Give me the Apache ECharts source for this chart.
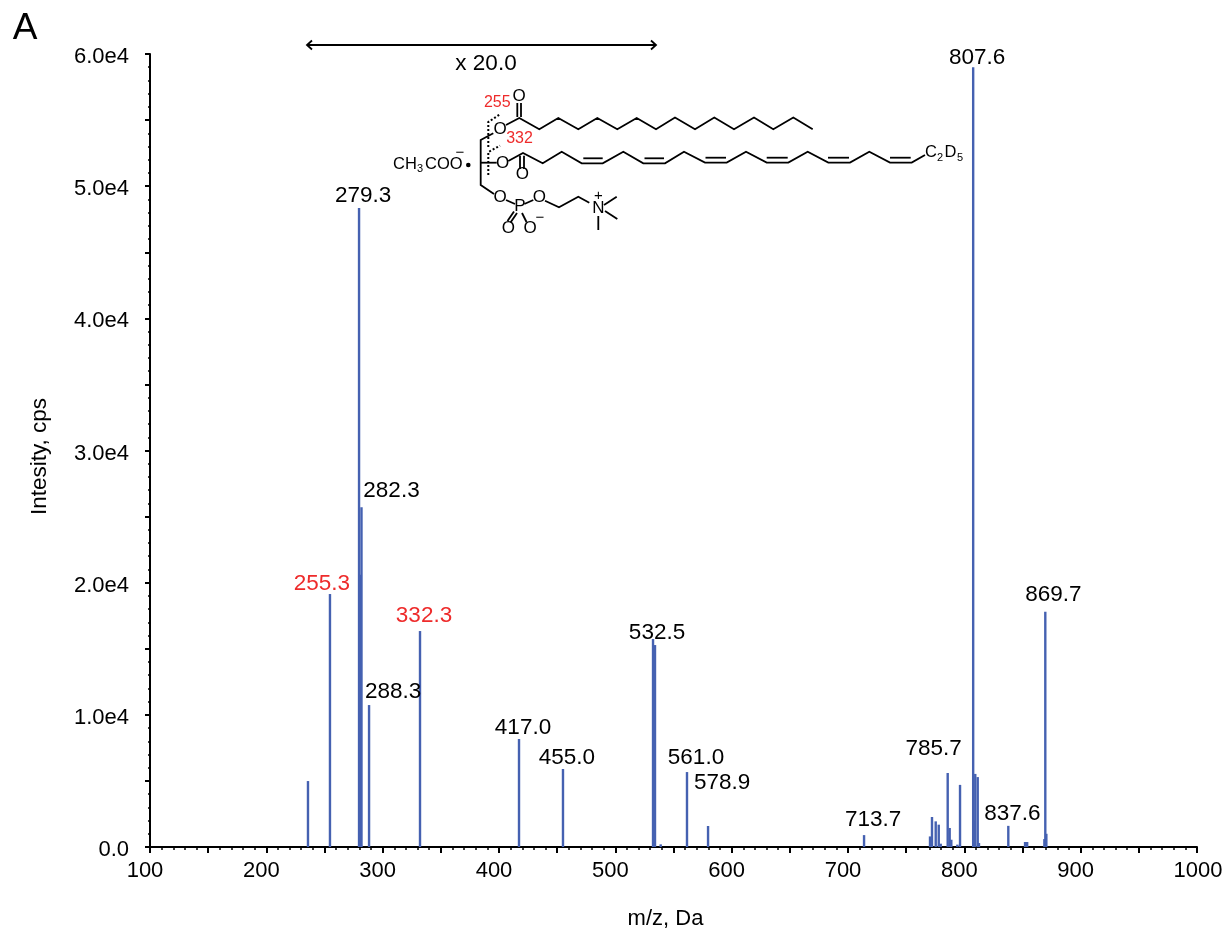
<!DOCTYPE html>
<html><head><meta charset="utf-8">
<style>html,body{margin:0;padding:0;background:#fff}#c{width:1223px;height:931px}</style>
<script src="https://cdn.jsdelivr.net/npm/echarts@6/dist/echarts.min.js"></script>
</head><body><div id="c"></div>
<script>
// ---- data ----
const peakMz = [235.8,254.7,279.7,280.5,281.8,288.3,332.1,417.2,455.0,532.4,534.1,539.0,561.6,579.7,713.8,
  770.5,772.2,775.4,778.0,779.7,785.7,787.4,788.8,794.0,796.3,807.6,808.3,809.4,811.5,812.6,837.8,852.2,854.0,868.8,869.6,870.5];
const peakInt = [4990,19140,48350,20600,25700,10740,16340,8170,5900,15740,15280,200,5670,1590,900,
  800,2270,1940,1690,250,5600,1440,550,180,4700,59000,2000,5530,5290,300,1600,380,380,600,17800,1000];
const labelTexts = ["807.6","279.3","282.3","255.3","332.3","288.3","532.5","417.0","455.0","561.0","578.9","713.7","785.7","837.6","869.7"];
const labelMz    = [807.6,279.7,281.8,254.7,332.1,288.3,532.4,417.2,455.0,561.6,579.7,713.8,785.7,837.8,869.6];
const labelInt   = [59000,48350,25700,19140,16340,10740,15740,8170,5900,5670,1590,900,5600,1600,17800];
const xTicks = [100,1000];
const yTicks = [0,60000];
// ---- style ----
const FONT = '"Liberation Sans", Arial, sans-serif';
const labelStyle = {
  "807.6":[4,7],"279.3":[4,4],"282.3":[30,0],"255.3":[-8,6],"332.3":[4,1],"288.3":[24,3],"532.5":[4,10],
  "417.0":[4,5],"455.0":[4,5],"561.0":[9,2],"578.9":[14,-27],"713.7":[9,1],"785.7":[-14,-8],"837.6":[4,4],"869.7":[8,0]
};
const RED = '#ee2b2b';
const red = new Set(["255.3","332.3"]);
const G = {l:150,r:1197,t:54,b:847};
const chart = echarts.init(document.getElementById('c'),null,{renderer:'canvas'});
const T = (x,y,t,o={}) => ({type:'text',x,y,silent:true,style:Object.assign({text:t,fontFamily:FONT,fontSize:17,fill:'#000',align:'center',verticalAlign:'middle'},o)});
const P = (pts,w=1.8,extra={}) => ({type:'polyline',silent:true,shape:{points:pts},style:Object.assign({stroke:'#000',lineWidth:w,fill:null,lineJoin:'miter'},extra)});
const g=[];
// range arrow
g.push(P([[307,45],[656,45]],1.8));
g.push(P([[312,40.5],[307,45],[312,49.5]],1.8));
g.push(P([[651,40.5],[656,45],[651,49.5]],1.8));
g.push(T(486,64,'x 20.0',{fontSize:22.5}));
g.push(T(25,29,'A',{fontSize:37}));
// sn-1 chain
g.push(P([[506,125],[519.3,118],[539.3,129.3],[558.3,118],[578.3,129.3],[597.3,118],[617.3,129.3],[636.7,118],[656,129.3],[675,117.5],[695,129.3],[714.3,117.5],[734,129.3],[754,117.5],[773.3,129.3],[793.3,117.5],[812.7,129.3]]));
g.push(P([[517.3,103],[517.3,117]]));g.push(P([[521,103],[521,117]]));
g.push(T(519,96,'O'));
g.push(T(500,129.5,'O'));
// backbone
g.push(P([[493.3,133.3],[480.7,140],[480.7,185],[494,194]]));
g.push(P([[480.7,162.7],[496.7,162.7]]));
// dotted fragments
const dot={lineDash:[2,2]};
g.push(P([[488.3,147],[488.3,122],[500,114.3]],2,dot));
g.push(P([[488.3,175],[488.3,152],[500,145.7]],2,dot));
g.push(T(497.3,103,'255',{fontSize:16,fill:RED}));
g.push(T(519.5,139,'332',{fontSize:16,fill:RED}));
// sn-2 chain
g.push(P([[508.3,161],[523,153],[542.7,163.3],[561.7,151.7],[581.7,163.3],[602.7,163.3],[623.3,151.7],[643.3,163.3],[665,163.3],[684,151.7],[705,162.6],[726.7,162.6],[746,151.7],[766.7,162.6],[788.3,162.6],[807.7,151.7],[828.3,162.6],[850,162.6],[869.3,151.7],[890,162.6],[911.7,162.6],[925,155]]));
[[583.3,602.7,158.3],[644.5,664,158.3],[705.5,726,157.7],[766.7,787.7,157.7],[828,849,157.7],[890,910.7,157.7]].forEach(s=>g.push(P([[s[0],s[2]],[s[1],s[2]]])));
g.push(P([[520,155.7],[520,169]]));g.push(P([[524,155.7],[524,169]]));
g.push(T(522.3,174.5,'O'));
g.push(T(502.7,163.5,'O'));
g.push(T(931,152,'C',{fontSize:16.5}));
g.push(T(940,158,'2',{fontSize:11}));
g.push(T(950.5,152,'D',{fontSize:16.5}));
g.push(T(960,158,'5',{fontSize:11}));
// acetate
g.push(T(393,164,'CH',{fontSize:16.5,align:'left'}));
g.push(T(420,169,'3',{fontSize:11}));
g.push(T(425,164,'COO',{fontSize:16.5,align:'left'}));
g.push(T(460,153,'\u2212',{fontSize:15}));
g.push({type:'circle',silent:true,shape:{cx:468.3,cy:165,r:2.3},style:{fill:'#000'}});
// head group
g.push(T(500,197.5,'O'));
g.push(P([[506,200],[515,204]]));
g.push(T(520,206.5,'P'));
g.push(P([[524.3,204],[533.3,200]]));
g.push(T(539.3,197.5,'O'));
g.push(P([[545,200.7],[559,207.3],[578.3,196.7],[589.3,202.7]]));
g.push(T(598.3,208.5,'N'));
g.push(T(598.3,195.7,'+',{fontSize:15}));
g.push(P([[604,205],[616.7,196.7]]));
g.push(P([[605,211],[617.3,219]]));
g.push(P([[598.3,216],[598.3,230]]));
g.push(P([[517,213],[510.5,222.5]]));g.push(P([[514,211.5],[507.5,221]]));
g.push(P([[522,213],[526.5,222]]));
g.push(T(508.3,228.5,'O'));
g.push(T(530,228.5,'O'));
g.push(T(540,217.7,'\u2212',{fontSize:15}));

const option = {
  animation:false,backgroundColor:'#fff',
  textStyle:{fontFamily:FONT},
  grid:{left:G.l,right:1223-G.r,top:G.t,bottom:931-G.b,containLabel:false,outerBoundsMode:'none'},
  xAxis:[
   {type:'value',min:xTicks[0],max:xTicks[1],interval:100,name:'m/z, Da',nameLocation:'middle',nameGap:61,
    nameTextStyle:{fontSize:22,color:'#000',fontFamily:FONT,padding:[0,16,0,0]},
    axisLine:{show:true,onZero:false,lineStyle:{color:'#000',width:2}},
    axisTick:{show:true,length:6,lineStyle:{color:'#000',width:2}},
    minorTick:{show:true,splitNumber:10,length:3,lineStyle:{color:'#000',width:1.5}},
    axisLabel:{fontSize:22,color:'#000',fontFamily:FONT,margin:13,padding:[0,10,0,0],hideOverlap:false,showMinLabel:true,showMaxLabel:true,
      formatter:v=>v===1000?'{m|1000}':String(v),
      rich:{m:{fontSize:22,color:'#000',fontFamily:FONT,padding:[0,0,0,12]}}},
    splitLine:{show:false}},
   {type:'value',min:xTicks[0],max:xTicks[1],interval:50,position:'bottom',
    axisLine:{show:false,onZero:false},axisTick:{show:true,length:6,lineStyle:{color:'#000',width:2}},axisLabel:{show:false},splitLine:{show:false}}
  ],
  yAxis:[
   {type:'value',min:yTicks[0],max:yTicks[1],interval:10000,name:'Intesity, cps',nameLocation:'middle',nameGap:99,
    nameTextStyle:{fontSize:22.5,color:'#000',fontFamily:FONT,padding:[0,12,0,0]},
    axisLine:{show:true,onZero:false,lineStyle:{color:'#000',width:2}},
    axisTick:{show:true,length:5,lineStyle:{color:'#000',width:2}},
    minorTick:{show:true,splitNumber:10,length:2,lineStyle:{color:'#000',width:1.5}},
    axisLabel:{fontSize:22,color:'#000',fontFamily:FONT,margin:21,verticalAlign:'top',lineHeight:6,showMinLabel:true,showMaxLabel:true,
      formatter:v=>v===0?'0.0':(v/10000).toFixed(1)+'e4'},
    splitLine:{show:false}},
   {type:'value',min:yTicks[0],max:yTicks[1],interval:5000,position:'left',
    axisLine:{show:false,onZero:false},axisTick:{show:true,length:5,lineStyle:{color:'#000',width:2}},axisLabel:{show:false},splitLine:{show:false}}
  ],
  series:[
   {type:'bar',xAxisIndex:0,yAxisIndex:0,barWidth:2.4,barGap:'-100%',itemStyle:{color:'#4561b1'},
    data:peakMz.map((m,i)=>[m,peakInt[i]])},
   {type:'scatter',xAxisIndex:0,yAxisIndex:0,symbolSize:0,silent:true,itemStyle:{opacity:1},
    data:labelMz.map((m,i)=>({value:[m,labelInt[i]],label:{show:true,position:'top',formatter:labelTexts[i],
       offset:labelStyle[labelTexts[i]],fontSize:22.5,fontFamily:FONT,color:red.has(labelTexts[i])?RED:'#000'}}))}
  ],
  graphic:g
};
chart.setOption(option);
</script></body></html>
